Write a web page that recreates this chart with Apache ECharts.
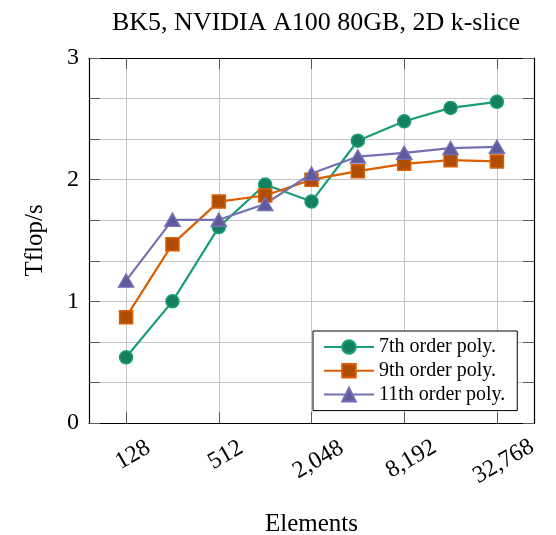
<!DOCTYPE html>
<html>
<head>
<meta charset="utf-8">
<script src="https://cdn.jsdelivr.net/npm/echarts@6/dist/echarts.min.js"></script>
<style>
  html, body { margin: 0; padding: 0; background: #fff; }
  #chart { width: 556px; height: 535px; }
</style>
</head>
<body>
<div id="chart"></div>
<script>
// Problem sizes (number of elements) and measured throughput in Tflop/s
const elements = [128, 256, 512, 1024, 2048, 4096, 8192, 16384, 32768];
const poly7  = [0.54, 1.00, 1.61, 1.96, 1.82, 2.32, 2.48, 2.59, 2.64];
const poly9  = [0.87, 1.47, 1.82, 1.87, 2.00, 2.07, 2.13, 2.16, 2.15];
const poly11 = [1.17, 1.67, 1.67, 1.80, 2.05, 2.19, 2.22, 2.26, 2.27];

const seriesNames = ['7th order poly.', '9th order poly.', '11th order poly.'];
const xTickValues = [128, 512, 2048, 8192, 32768];
const yTickValues = [0, 1, 2, 3];

const FONT = '"Liberation Serif", "Times New Roman", serif';
const GRID_COLOR = '#c6c6c6';
const TICK_COLOR = '#5a5a5a';

// Per-label padding [top, right, bottom, left] for the rotated x labels, so that
// every rotated label hangs from the same top line, slightly right of its tick.
const xLabelPad = [[7, 0, 0, 12], [7, 0, 0, 12], [15, 0, 0, 7], [14, 0, 0, 8], [18, 0, 0, 5]];

const chart = echarts.init(document.getElementById('chart'), null, { renderer: 'canvas' });

function pairs(ys) {
  return elements.map((x, i) => [x, ys[i]]);
}

function makeSeries(name, ys, color, fill, symbol, size) {
  return {
    name: name,
    type: 'line',
    data: pairs(ys),
    symbol: symbol,
    symbolSize: size,
    showSymbol: true,
    lineStyle: { color: color, width: 2.2 },
    itemStyle: { color: fill, borderColor: color, borderWidth: 1.5, opacity: 1 },
    emphasis: { disabled: true },
    z: 3
  };
}

const xCommon = {
  type: 'log',
  logBase: 2,
  min: Math.pow(2, 6.2),
  max: Math.pow(2, 15.8),
  axisLine: { show: true, onZero: false, lineStyle: { color: '#000', width: 1.2 } },
  axisTick: { show: true, inside: true, length: 11, customValues: xTickValues,
              lineStyle: { color: TICK_COLOR, width: 1 } },
  minorTick: { show: false },
  minorSplitLine: { show: false }
};

const yCommon = {
  type: 'value',
  min: 0,
  max: 3,
  interval: 1,
  axisLine: { show: true, lineStyle: { color: '#000', width: 1.2 } },
  axisTick: { show: true, inside: true, length: 11, lineStyle: { color: TICK_COLOR, width: 1 } },
  minorTick: { show: true, splitNumber: 3, length: 11, lineStyle: { color: TICK_COLOR, width: 1 } }
};

const xRich = {};
xLabelPad.forEach((p, i) => {
  xRich['l' + i] = { fontFamily: FONT, fontSize: 24, color: '#000', padding: p };
});

const option = {
  backgroundColor: '#fff',
  animation: false,
  title: {
    text: 'BK5, NVIDIA A100 80GB, 2D k-slice',
    left: 311,
    textAlign: 'center',
    top: 5,
    textStyle: { fontFamily: FONT, fontSize: 26, fontWeight: 'normal', color: '#000' }
  },
  grid: { left: 89, right: 22, top: 58, bottom: 112, containLabel: false, outerBoundsMode: 'none' },
  legend: {
    data: seriesNames,
    orient: 'vertical',
    left: 313,
    top: 331,
    itemWidth: 50,
    itemHeight: 17,
    itemGap: 3.8,
    padding: [6, 12, 6, 10],
    backgroundColor: '#fff',
    borderColor: '#000',
    borderWidth: 1,
    borderRadius: 0,
    textStyle: { fontFamily: FONT, fontSize: 20, color: '#000' },
    z: 10
  },
  xAxis: [
    Object.assign({}, xCommon, {
      position: 'bottom',
      name: 'Elements',
      nameLocation: 'middle',
      nameGap: 89,
      nameTextStyle: { fontFamily: FONT, fontSize: 25, color: '#000' },
      axisLabel: {
        show: true,
        customValues: xTickValues,
        rotate: 30,
        align: 'center',
        verticalAlign: 'middle',
        margin: 32,
        fontFamily: FONT,
        fontSize: 24,
        color: '#000',
        rich: xRich,
        formatter: function (v) {
          const idx = xTickValues.indexOf(Math.round(v));
          return '{l' + Math.max(idx, 0) + '|' + Math.round(v).toLocaleString('en-US') + '}';
        }
      },
      splitLine: { show: true, lineStyle: { color: GRID_COLOR, width: 1 } }
    }),
    Object.assign({}, xCommon, {
      position: 'top',
      axisLabel: { show: false },
      splitLine: { show: false }
    })
  ],
  yAxis: [
    Object.assign({}, yCommon, {
      position: 'left',
      name: 'Tflop/s',
      nameLocation: 'middle',
      nameGap: 41,
      nameRotate: 90,
      nameTextStyle: { fontFamily: FONT, fontSize: 25, color: '#000' },
      axisLabel: {
        show: true,
        margin: 10,
        fontFamily: FONT,
        fontSize: 24,
        color: '#000',
        customValues: yTickValues
      },
      splitLine: { show: true, lineStyle: { color: GRID_COLOR, width: 1 } },
      minorSplitLine: { show: true, lineStyle: { color: GRID_COLOR, width: 1 } }
    }),
    Object.assign({}, yCommon, {
      position: 'right',
      axisLabel: { show: false },
      splitLine: { show: false },
      minorSplitLine: { show: false }
    })
  ],
  series: [
    makeSeries(seriesNames[0], poly7, '#1b9e77', '#167f60', 'circle', 13),
    makeSeries(seriesNames[1], poly9, '#d95f02', '#b04d04', 'rect', 13),
    makeSeries(seriesNames[2], poly11, '#7570b3', '#5f5a9a', 'triangle', [15, 13])
  ]
};

chart.setOption(option);
</script>
</body>
</html>
